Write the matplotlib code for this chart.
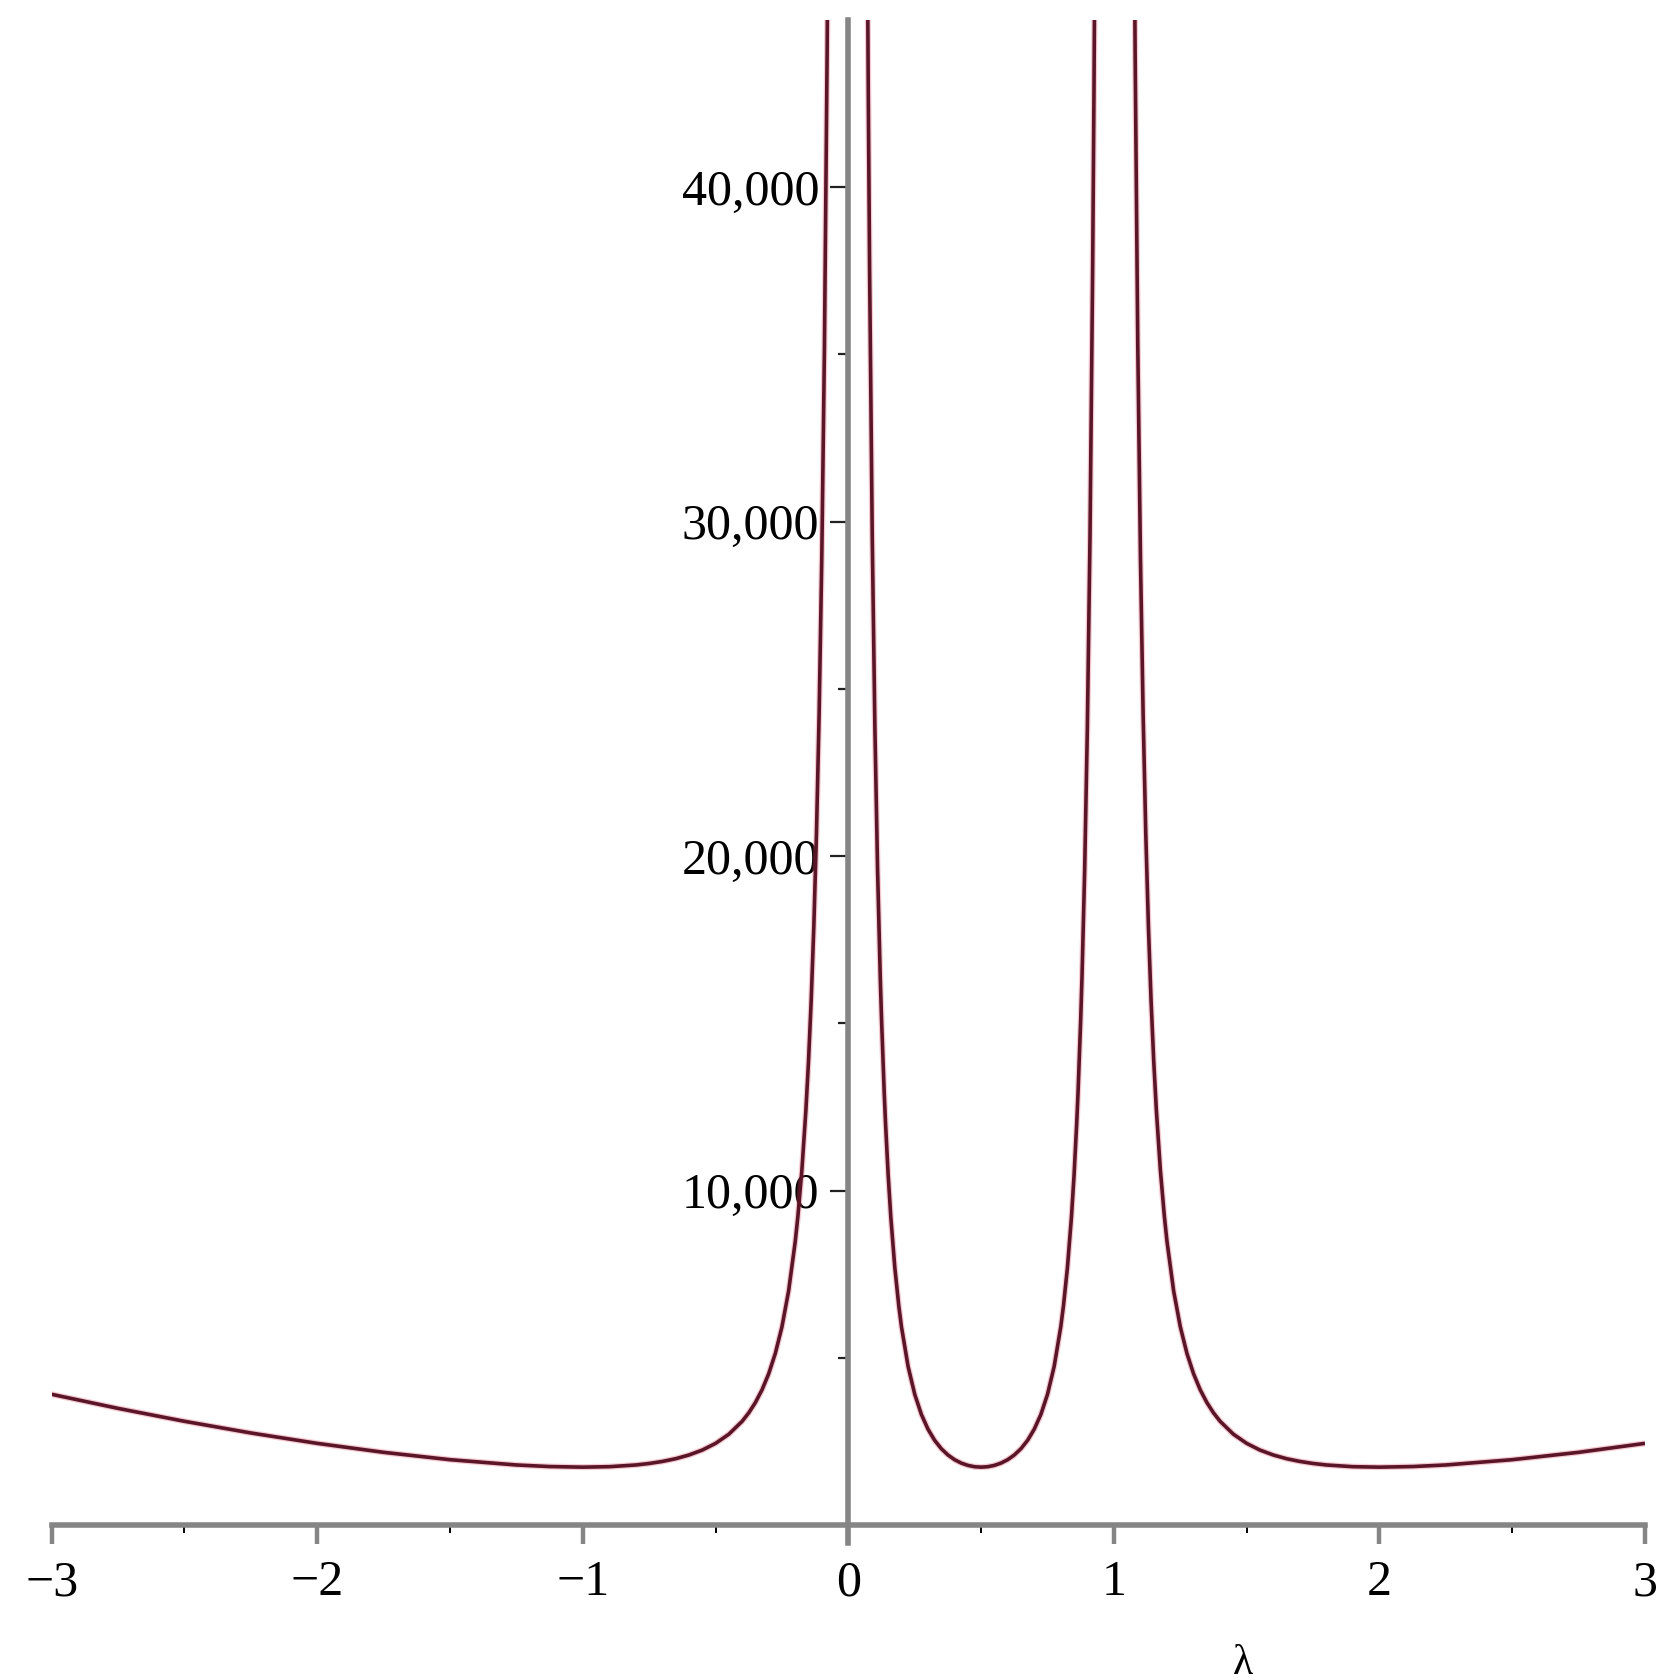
import matplotlib
matplotlib.use("Agg")
import matplotlib.pyplot as plt

# ---- data (three branches between the poles at 0 and 1) ----
left_x = [-3.0, -2.75, -2.5, -2.25, -2.0, -1.75, -1.5, -1.25, -1.125, -1.0, -0.9, -0.8,
          -0.75, -0.7, -0.65, -0.6, -0.55, -0.5, -0.45, -0.4, -0.375, -0.35, -0.325,
          -0.3, -0.275, -0.25, -0.225, -0.2, -0.19, -0.175, -0.16, -0.15, -0.14,
          -0.13, -0.12, -0.11, -0.1, -0.09, -0.08, -0.075]
left_y = [3906, 3485, 3099, 2750, 2439, 2171, 1951, 1793, 1746, 1728, 1742, 1793,
          1838, 1899, 1981, 2092, 2239, 2439, 2713, 3099, 3352, 3661, 4042,
          4520, 5130, 5927, 6995, 8474, 9230, 10610, 12385, 13868, 15671,
          17896, 20689, 24261, 28935, 35223, 43972, 49698]

mid_x = [0.07, 0.075, 0.08, 0.09, 0.1, 0.11, 0.12, 0.125, 0.135, 0.14, 0.15, 0.16,
         0.175, 0.19, 0.2, 0.225, 0.25, 0.275, 0.3, 0.325, 0.35, 0.375, 0.4, 0.425,
         0.45, 0.475, 0.5, 0.525, 0.55, 0.575, 0.6, 0.625, 0.65, 0.675, 0.7, 0.725,
         0.75, 0.775, 0.8, 0.81, 0.825, 0.84, 0.85, 0.86, 0.865, 0.875, 0.88, 0.89,
         0.9, 0.91, 0.92, 0.925, 0.93]
mid_y = [49359, 42870, 37573, 29537, 23817, 19608, 16425, 15118, 12935, 12018, 10460, 9192,
         7693, 6547, 5927, 4738, 3906, 3305, 2862, 2530, 2280, 2092, 1951, 1850,
         1781, 1741, 1728, 1741, 1781, 1850, 1951, 2092, 2280, 2530, 2862, 3305,
         3906, 4738, 5927, 6547, 7693, 9192, 10460, 12018, 12935, 15118, 16425, 19608,
         23817, 29537, 37573, 42870, 49359]

right_x = [1.075, 1.08, 1.09, 1.1, 1.11, 1.12, 1.13, 1.14, 1.15, 1.16, 1.175, 1.19,
           1.2, 1.225, 1.25, 1.275, 1.3, 1.325, 1.35, 1.375, 1.4, 1.45, 1.5, 1.55,
           1.6, 1.65, 1.7, 1.75, 1.8, 1.9, 2.0, 2.125, 2.25, 2.5, 2.75, 3.0]
right_y = [49698, 43972, 35223, 28935, 24261, 20689, 17896, 15671, 13868, 12385, 10610, 9230,
           8474, 6995, 5927, 5130, 4520, 4042, 3661, 3352, 3099, 2713, 2439, 2239,
           2092, 1981, 1899, 1838, 1793, 1742, 1728, 1746, 1793, 1951, 2171, 2439]

x_major = [-3, -2, -1, 0, 1, 2, 3]
x_major_labels = ["\u22123", "\u22122", "\u22121", "0", "1", "2", "3"]
x_minor = [-2.5, -1.5, -0.5, 0.5, 1.5, 2.5]
y_major = [0, 10000, 20000, 30000, 40000]
y_major_labels = ["", "10,000", "20,000", "30,000", "40,000"]
y_minor = [5000, 15000, 25000, 35000]
x_label = "\u03bb"

# ---- figure ----
W, H = 1673, 1680
fig = plt.figure(figsize=(W / 100, H / 100), dpi=100)
plt.rcParams["font.family"] = ["Liberation Serif", "DejaVu Serif"]

x0, x1 = 51.7 / W, 1645 / W
y0, y1 = 1 - 1543 / H, 1 - 20 / H
ax = fig.add_axes([x0, y0, x1 - x0, y1 - y0])
ax.set_xlim(-3, 3)
ax.set_ylim(-540, 45000)

curve_col = "#5a1628"
halo_col = "#e0506a"
for xs, ys in [(left_x, left_y), (mid_x, mid_y), (right_x, right_y)]:
    ax.plot(xs, ys, color=halo_col, lw=4.4, alpha=0.3, solid_capstyle="butt",
            solid_joinstyle="round", zorder=3)
    ax.plot(xs, ys, color=curve_col, lw=2.6, solid_capstyle="butt",
            solid_joinstyle="round", zorder=4)

axis_col = "#858585"
for s in ["top", "right"]:
    ax.spines[s].set_visible(False)
ax.spines["left"].set_position(("data", 0))
ax.spines["bottom"].set_position(("data", 0))
for s in ["left", "bottom"]:
    ax.spines[s].set_color(axis_col)
    ax.spines[s].set_linewidth(4)
    ax.spines[s].set_zorder(2)

ax.set_xticks(x_major)
ax.set_xticklabels(x_major_labels)
ax.set_xticks(x_minor, minor=True)
ax.set_yticks(y_major)
ax.set_yticklabels(y_major_labels)
ax.set_yticks(y_minor, minor=True)

ax.tick_params(axis="x", which="major", direction="out", length=14, width=3.2,
               color=axis_col, labelsize=36, pad=11, labelcolor="black")
ax.tick_params(axis="x", which="minor", direction="out", length=6, width=1.4,
               color="black")
ax.tick_params(axis="y", which="major", direction="out", length=13, width=1.6,
               color="#222222", labelsize=36, pad=8, labelcolor="black")
ax.tick_params(axis="y", which="minor", direction="out", length=7, width=1.6,
               color="#222222")

ax.patch.set_visible(False)
fig.text(1243 / W, 1 - 1664 / H, x_label, fontsize=30, ha="center", va="center")

fig.savefig("out.png", dpi=100, facecolor="white")
